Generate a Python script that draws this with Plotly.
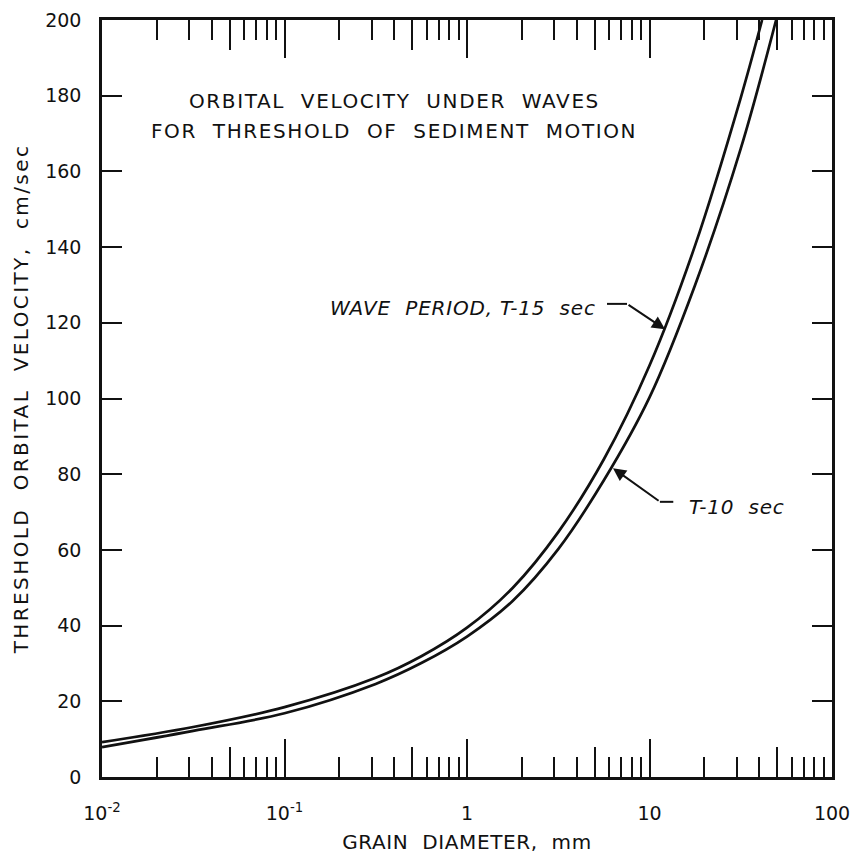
import plotly.graph_objects as go

# T = 15 sec curve (grain diameter mm, threshold orbital velocity cm/s)
d_t15 = [0.01, 0.0316, 0.1, 0.316, 0.562, 1.0, 1.778, 3.162, 5.623, 10.0, 17.78, 31.62, 41.4]
v_t15 = [9.2, 13.2, 18.45, 26.2, 31.9, 39.45, 49.95, 64.7, 83.95, 108.7, 140.45, 179.45, 200.0]
# T = 10 sec curve
d_t10 = [0.01, 0.0316, 0.1, 0.316, 0.562, 1.0, 1.778, 3.162, 5.623, 10.0, 17.78, 31.62, 49.4]
v_t10 = [7.9, 12.2, 16.85, 24.6, 30.1, 37.1, 46.5, 60.2, 78.4, 100.3, 130.0, 166.0, 200.0]

x_major = [0.01, 0.1, 1, 10, 100]
x_major_text = ["10<sup>-2</sup>", "10<sup>-1</sup>", "1", "10", "100"]
x_minor = [m * 10.0 ** k for k in range(-2, 2) for m in (2, 3, 4, 6, 7, 8, 9)]
x_mid = [5 * 10.0 ** k for k in range(-2, 2)]
y_ticks = list(range(0, 201, 20))

FONT = "DejaVu Sans"
BLACK = "#111111"


def spaced(txt, ls):
    return '<span style="letter-spacing:%spx">%s</span>' % (ls, txt)


fig = go.Figure()
for dd, vv in ((d_t15, v_t15), (d_t10, v_t10)):
    fig.add_trace(go.Scatter(x=dd, y=vv, mode="lines",
                             line=dict(color=BLACK, width=2.7, shape="spline", smoothing=1.0),
                             showlegend=False, hoverinfo="skip"))
# invisible trace carrying the overlay axis with the "5" ticks
fig.add_trace(go.Scatter(x=[0.01, 100], y=[0, 0], xaxis="x2", mode="lines", line=dict(width=0),
                         showlegend=False, hoverinfo="skip"))

fig.update_layout(
    width=855, height=854,
    margin=dict(l=102, r=23, t=20, b=77),
    paper_bgcolor="white", plot_bgcolor="white",
    font=dict(family=FONT, color=BLACK, size=18),
    xaxis=dict(type="log", range=[-2, 2], tickmode="array", tickvals=x_major, ticktext=x_major_text,
               ticks="inside", ticklen=38, tickwidth=2, tickcolor=BLACK, automargin=False,
               showline=True, linecolor=BLACK, linewidth=2.5, mirror="ticks",
               showgrid=False, zeroline=False, ticklabelstandoff=17,
               tickfont=dict(size=19),
               minor=dict(tickmode="array", tickvals=x_minor, ticks="inside", ticklen=20, tickwidth=2,
                          tickcolor=BLACK, showgrid=False),
               title=dict(text=spaced("GRAIN  DIAMETER,  mm", 0.6), font=dict(size=20), standoff=18)),
    xaxis2=dict(type="log", range=[-2, 2], overlaying="x", side="bottom", tickmode="array", tickvals=x_mid,
                ticks="inside", ticklen=30, tickwidth=2, tickcolor=BLACK, showticklabels=False, automargin=False,
                showline=False, mirror="ticks", showgrid=False, zeroline=False),
    yaxis=dict(range=[0, 200], tickmode="array", tickvals=y_ticks,
               ticks="inside", ticklen=20, tickwidth=2, tickcolor=BLACK, automargin=False,
               showline=True, linecolor=BLACK, linewidth=2.5, mirror="ticks",
               showgrid=False, zeroline=False, ticklabelstandoff=14,
               tickfont=dict(size=19),
               title=dict(text=spaced("THRESHOLD  ORBITAL  VELOCITY,  cm/sec", 2.4), font=dict(size=20), standoff=12)),
)

title_lines = ["ORBITAL  VELOCITY  UNDER  WAVES", "FOR  THRESHOLD  OF  SEDIMENT  MOTION"]
title_y = [178.5, 170.8]
for txt, yy in zip(title_lines, title_y):
    fig.add_annotation(x=-0.40, y=yy, xref="x", yref="y", text=spaced(txt, 1.6), showarrow=False,
                       font=dict(size=20, family=FONT, color=BLACK), xanchor="center", yanchor="middle")

# T-15 label with bent leader
fig.add_annotation(x=0.72, y=123.9, xref="x", yref="y", text="<i>" + spaced("WAVE  PERIOD, T-15  sec", 0.8) + "</i>",
                   showarrow=False, font=dict(size=20, family=FONT, color=BLACK), xanchor="right", yanchor="middle")
fig.add_shape(type="line", xref="x", yref="y", x0=5.85, x1=7.53, y0=125.0, y1=125.0, line=dict(color=BLACK, width=2))
fig.add_annotation(x=1.085, y=118.3, xref="x", yref="y", axref="x", ayref="y", ax=0.877, ay=125.0,
                   text="", showarrow=True, arrowhead=2, arrowsize=1.3, arrowwidth=2, arrowcolor=BLACK)

# T-10 label with bent leader
fig.add_annotation(x=1.205, y=71.3, xref="x", yref="y", text="<i>" + spaced("T-10  sec", 0.8) + "</i>",
                   showarrow=False, font=dict(size=20, family=FONT, color=BLACK), xanchor="left", yanchor="middle")
fig.add_shape(type="line", xref="x", yref="y", x0=11.4, x1=13.5, y0=72.7, y1=72.7, line=dict(color=BLACK, width=2))
fig.add_annotation(x=0.80, y=81.6, xref="x", yref="y", axref="x", ayref="y", ax=1.058, ay=72.7,
                   text="", showarrow=True, arrowhead=2, arrowsize=1.3, arrowwidth=2, arrowcolor=BLACK)

fig.write_html("out.html")
